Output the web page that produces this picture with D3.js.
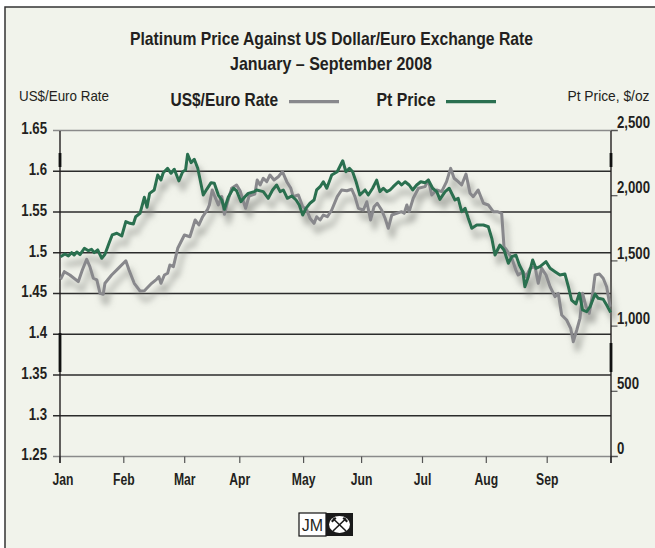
<!DOCTYPE html>
<html><head><meta charset="utf-8">
<script src="https://cdn.jsdelivr.net/npm/d3@7"></script>
<style>
html,body{margin:0;padding:0;background:#fff;}
svg{display:block;}
text{font-family:'Liberation Sans',Arial,sans-serif;fill:#231f20;}
</style></head><body>
<svg id="chart" width="655" height="548"></svg>
<script>
// ---------- data ----------
const monthLabels = ["Jan","Feb","Mar","Apr","May","Jun","Jul","Aug","Sep"];
const monthStartDays = [0,22,43,62,84,104,125,147,168];
const totalDays = 190; // trading days, Jan–Sep 2008
const rateTicks = [1.25,1.3,1.35,1.4,1.45,1.5,1.55,1.6,1.65];
const rateTickLabels = ["1.25","1.3","1.35","1.4","1.45","1.5","1.55","1.6","1.65"];
const priceTicks = [0,500,1000,1500,2000,2500];
const priceTickLabels = ["0","500","1,000","1,500","2,000","2,500"];

// US$/Euro rate (trading day, rate)
const rateDays = [0.2,1.5,3.4,6.3,7.7,9.2,10.3,11.5,12.7,13.8,14.9,15.5,17.8,20.1,22.7,23.8,25.6,27.6,29.1,31.6,33.3,34.1,34.8,36.0,37.1,37.9,39.1,40.6,42.9,44.8,46.6,47.9,49.2,50.9,51.5,52.5,53.4,54.6,55.8,56.7,57.8,59.2,60.9,62.1,64.0,65.2,67.2,68.0,69.0,70.1,71.3,72.4,73.8,75.3,76.7,78.2,79.6,80.4,82.2,83.7,85.1,86.2,87.6,88.5,89.7,90.8,92.2,93.7,95.6,97.1,98.9,100.6,101.7,102.9,104.6,105.8,107.1,108.3,109.4,110.9,112.1,113.2,114.4,116.1,117.8,118.7,119.6,120.4,121.8,123.6,125.9,127.0,128.2,129.9,131.6,133.3,134.7,135.9,137.3,138.5,140.0,141.4,142.5,144.2,146.0,147.7,149.4,150.8,152.3,153.1,154.0,155.8,157.2,158.0,159.6,160.7,162.1,163.8,164.9,166.1,167.6,169.0,170.7,171.8,173.0,174.7,176.1,177.0,178.2,179.3,180.2,181.4,182.5,183.7,184.5,186.0,187.3,188.5,189.7];
const rateValues = [1.4674,1.4768,1.4727,1.4645,1.4788,1.4920,1.4829,1.4687,1.4666,1.4502,1.4490,1.4625,1.4727,1.4809,1.4902,1.4788,1.4625,1.4531,1.4534,1.4625,1.4674,1.4706,1.4625,1.4727,1.4748,1.4850,1.4829,1.5055,1.5218,1.5197,1.5402,1.5341,1.5442,1.5533,1.5586,1.5770,1.5688,1.5586,1.5688,1.5472,1.5626,1.5791,1.5831,1.5761,1.5545,1.5696,1.5721,1.5893,1.5831,1.5914,1.5872,1.5954,1.5893,1.5933,1.5995,1.5872,1.5791,1.5688,1.5709,1.5565,1.5525,1.5423,1.5361,1.5442,1.5402,1.5463,1.5442,1.5525,1.5688,1.5770,1.5761,1.5779,1.5688,1.5545,1.5525,1.5626,1.5402,1.5565,1.5607,1.5525,1.5423,1.5300,1.5463,1.5484,1.5504,1.5484,1.5586,1.5504,1.5668,1.5791,1.5811,1.5893,1.5709,1.5770,1.5749,1.5872,1.6036,1.5914,1.5872,1.5831,1.5966,1.5730,1.5688,1.5770,1.5607,1.5586,1.5504,1.5504,1.5484,1.5074,1.5034,1.4932,1.4788,1.4727,1.4768,1.4706,1.4809,1.4829,1.4625,1.4809,1.4727,1.4583,1.4461,1.4502,1.4236,1.4175,1.4073,1.3909,1.4052,1.4196,1.4502,1.4338,1.4257,1.4502,1.4727,1.4739,1.4687,1.4583,1.4338];

// Platinum price, $/oz (trading day, price)
const ptDays = [0.2,1.7,2.9,4.0,4.9,5.8,6.9,8.4,9.8,10.9,11.8,13.0,14.4,15.5,16.9,18.0,19.6,21.3,22.7,24.1,25.3,26.1,27.6,29.1,30.0,30.9,32.5,33.7,34.8,35.6,37.1,38.3,39.4,41.0,42.3,43.3,44.0,45.2,46.3,47.5,49.4,50.6,52.1,53.2,54.6,55.8,56.7,58.0,59.8,60.9,62.4,63.6,64.9,67.0,67.8,70.1,71.8,73.3,74.7,75.9,77.0,78.4,79.9,81.4,82.5,83.7,84.8,86.2,87.6,88.5,89.7,90.8,92.0,93.7,95.6,97.5,98.6,99.8,100.9,102.1,103.4,105.2,106.3,107.8,109.2,110.3,111.5,112.7,113.8,114.9,116.7,117.8,119.0,120.4,121.6,123.0,124.4,125.9,127.0,128.5,129.9,131.0,132.8,134.2,136.2,137.3,138.5,139.7,140.8,142.0,143.7,146.0,147.7,148.9,150.0,151.7,153.1,154.6,155.8,157.2,158.4,159.6,160.3,161.5,163.0,164.1,165.5,167.6,169.0,170.7,172.4,174.1,175.3,176.4,177.9,179.1,180.2,181.6,182.8,184.5,185.6,187.3,188.5,189.9];
const ptValues = [1532,1553,1538,1563,1545,1568,1548,1597,1578,1589,1563,1584,1520,1551,1635,1699,1712,1691,1801,1788,1783,1839,1865,1988,1911,2018,2044,2159,2120,2176,2210,2172,2203,2113,2184,2197,2318,2253,2279,2210,2005,2049,2100,2095,2005,1967,1896,1988,2057,2038,1954,1988,2018,2031,2044,2031,1980,2044,2082,2031,2044,1980,1998,1967,1929,1852,1903,1942,1967,2044,2069,2107,2057,2159,2184,2268,2184,2210,2184,2107,2005,2044,2005,2057,2120,2031,2057,2031,2044,2069,2107,2082,2107,2082,2044,2082,2107,2100,2120,2057,2031,1972,2031,2057,1967,1980,1877,1903,1827,1750,1775,1775,1762,1673,1545,1622,1584,1482,1532,1545,1469,1417,1302,1379,1507,1443,1456,1494,1443,1417,1392,1400,1302,1200,1170,1252,1124,1110,1149,1246,1213,1206,1162,1105];

// ---------- drawing ----------
const svg = d3.select("#chart");
const BG = "#f1f3eb", GRAY = "#88888c", GREEN = "#2a6f50", INK = "#231f20";

const pLeft = 60, pRight = 611, pTop = 130.5, pBottom = 456.5;
const x = d3.scaleLinear().domain([0, totalDays]).range([pLeft, pRight]);
const yRate = d3.scaleLinear().domain([1.25, 1.65]).range([pBottom, pTop]);
const yPt = d3.scaleLinear().domain([0, 2500]).range([pBottom, pTop]);

// panel + border
svg.append("rect").attr("x",5).attr("y",7).attr("width",660).attr("height",560)
  .attr("fill",BG).attr("stroke","#333").attr("stroke-width",1.5);

// titles
const titleG = svg.append("g").attr("font-weight","bold");
titleG.append("text").attr("x",331.5).attr("y",45).attr("text-anchor","middle")
  .attr("font-size",19).attr("textLength",403).attr("lengthAdjust","spacingAndGlyphs")
  .text("Platinum Price Against US Dollar/Euro Exchange Rate");
titleG.append("text").attr("x",331).attr("y",70).attr("text-anchor","middle")
  .attr("font-size",19).attr("textLength",202).attr("lengthAdjust","spacingAndGlyphs")
  .text("January – September 2008");

// axis titles
svg.append("text").attr("x",19).attr("y",100.5).attr("font-size",14.5)
  .attr("textLength",90).attr("lengthAdjust","spacingAndGlyphs").text("US$/Euro Rate");
svg.append("text").attr("x",649.5).attr("y",100.5).attr("font-size",14.5).attr("text-anchor","end")
  .attr("textLength",82).attr("lengthAdjust","spacingAndGlyphs").text("Pt Price, $/oz");

// legend
const legend = [
  {label:"US$/Euro Rate", color:GRAY, tx:170.5, tw:107.5, lx:289},
  {label:"Pt Price", color:GREEN, tx:376.5, tw:59, lx:446}
];
legend.forEach(l => {
  svg.append("text").attr("x",l.tx).attr("y",106).attr("font-size",19).attr("font-weight","bold")
    .attr("textLength",l.tw).attr("lengthAdjust","spacingAndGlyphs").text(l.label);
  svg.append("line").attr("x1",l.lx).attr("x2",l.lx+50).attr("y1",101.7).attr("y2",101.7)
    .attr("stroke",l.color).attr("stroke-width",3.2);
});

// gridlines (rate ticks)
svg.append("g").selectAll("line").data(rateTicks).join("line")
  .attr("x1",53).attr("x2",(d,i)=> (i===0||i===rateTicks.length-1) ? 618 : pRight)
  .attr("y1",d=>yRate(d)).attr("y2",d=>yRate(d))
  .attr("stroke",(d,i)=> (i===0||i===rateTicks.length-1) ? "#8a8a8a" : "#2b2b2b")
  .attr("stroke-width",1.4);

// condensed label helper: positioned group, horizontally squeezed text
function labels(data, px, py, texts, anchor, size, k){
  const g = svg.append("g").attr("font-weight","bold").attr("font-size",size);
  g.selectAll("g").data(data).join("g")
    .attr("transform",(d,i)=>`translate(${px(d,i)},${py(d,i)}) scale(${k},1)`)
    .append("text").attr("text-anchor",anchor).attr("dy","0.35em")
    .text((d,i)=>texts[i]);
}

// left tick labels
labels(rateTicks, ()=>47, d=>yRate(d)-2, rateTickLabels, "end", 16.5, 0.8);

// right axis ticks + labels
svg.append("g").selectAll("line").data(priceTicks).join("line")
  .attr("x1",pRight).attr("x2",617.5).attr("y1",d=>yPt(d)).attr("y2",d=>yPt(d))
  .attr("stroke","#555").attr("stroke-width",1.2);
labels(priceTicks, ()=>617, d=>yPt(d)-8, priceTickLabels, "start", 16.5, 0.8);

// x axis ticks + labels
svg.append("g").selectAll("line").data(monthStartDays.concat([totalDays])).join("line")
  .attr("x1",d=>x(d)).attr("x2",d=>x(d)).attr("y1",pBottom).attr("y2",463)
  .attr("stroke","#555").attr("stroke-width",1.2);
labels(monthStartDays, (d,i)=>x(d) + (i===0?3:0), ()=>479.5, monthLabels, "middle", 16, 0.76);

// vertical axes
[pLeft, pRight].forEach(ax => {
  svg.append("line").attr("x1",ax).attr("x2",ax).attr("y1",131).attr("y2",463)
    .attr("stroke",INK).attr("stroke-width",1.4);
});
// heavy marks on axes (print artefacts)
const axisMarks = [[pLeft,153,167],[pLeft,333,372],[pRight,153,167],[pRight,343,372]];
svg.append("g").selectAll("line").data(axisMarks).join("line")
  .attr("x1",d=>d[0]).attr("x2",d=>d[0]).attr("y1",d=>d[1]).attr("y2",d=>d[2])
  .attr("stroke","#111").attr("stroke-width",2.8);

// shadow filter
const defs = svg.append("defs");
const f = defs.append("filter").attr("id","shadow").attr("x","-10%").attr("y","-10%").attr("width","130%").attr("height","140%");
f.append("feGaussianBlur").attr("in","SourceAlpha").attr("stdDeviation",3.2).attr("result","blur");
f.append("feOffset").attr("in","blur").attr("dx",4).attr("dy",9).attr("result","off");
f.append("feFlood").attr("flood-color","#7d7f7a").attr("flood-opacity",0.7).attr("result","col");
f.append("feComposite").attr("in","col").attr("in2","off").attr("operator","in").attr("result","sh");
const m = f.append("feMerge");
m.append("feMergeNode").attr("in","sh");
m.append("feMergeNode").attr("in","SourceGraphic");

const rateData = d3.zip(rateDays, rateValues);
const ptData = d3.zip(ptDays, ptValues);
const lines = svg.append("g").attr("filter","url(#shadow)");
lines.append("path").datum(rateData)
  .attr("d", d3.line().x(d=>x(d[0])).y(d=>yRate(d[1])))
  .attr("fill","none").attr("stroke",GRAY).attr("stroke-width",3).attr("stroke-linejoin","round");
lines.append("path").datum(ptData)
  .attr("d", d3.line().x(d=>x(d[0])).y(d=>yPt(d[1])))
  .attr("fill","none").attr("stroke",GREEN).attr("stroke-width",3).attr("stroke-linejoin","round");

// JM logo
const logo = svg.append("g");
logo.append("rect").attr("x",299).attr("y",513).attr("width",27).attr("height",23)
  .attr("fill","#fff").attr("stroke","#111").attr("stroke-width",1.2);
logo.append("text").attr("x",312.5).attr("y",531).attr("text-anchor","middle")
  .attr("font-size",16).text("JM");
logo.append("rect").attr("x",326).attr("y",513).attr("width",27).attr("height",23).attr("fill","#1a1a1a");
logo.append("ellipse").attr("cx",339.5).attr("cy",524.5).attr("rx",10.5).attr("ry",8.5).attr("fill","#fff");
logo.append("line").attr("x1",333).attr("y1",518.5).attr("x2",346).attr("y2",531).attr("stroke","#1a1a1a").attr("stroke-width",1.6);
logo.append("line").attr("x1",346).attr("y1",518.5).attr("x2",333).attr("y2",531).attr("stroke","#1a1a1a").attr("stroke-width",1.6);
logo.append("path").attr("d","M331,521 L335,517 L336.5,518.5 L332.5,522.5 Z M348,521 L344,517 L342.5,518.5 L346.5,522.5 Z").attr("fill","#1a1a1a");
</script>
</body></html>
